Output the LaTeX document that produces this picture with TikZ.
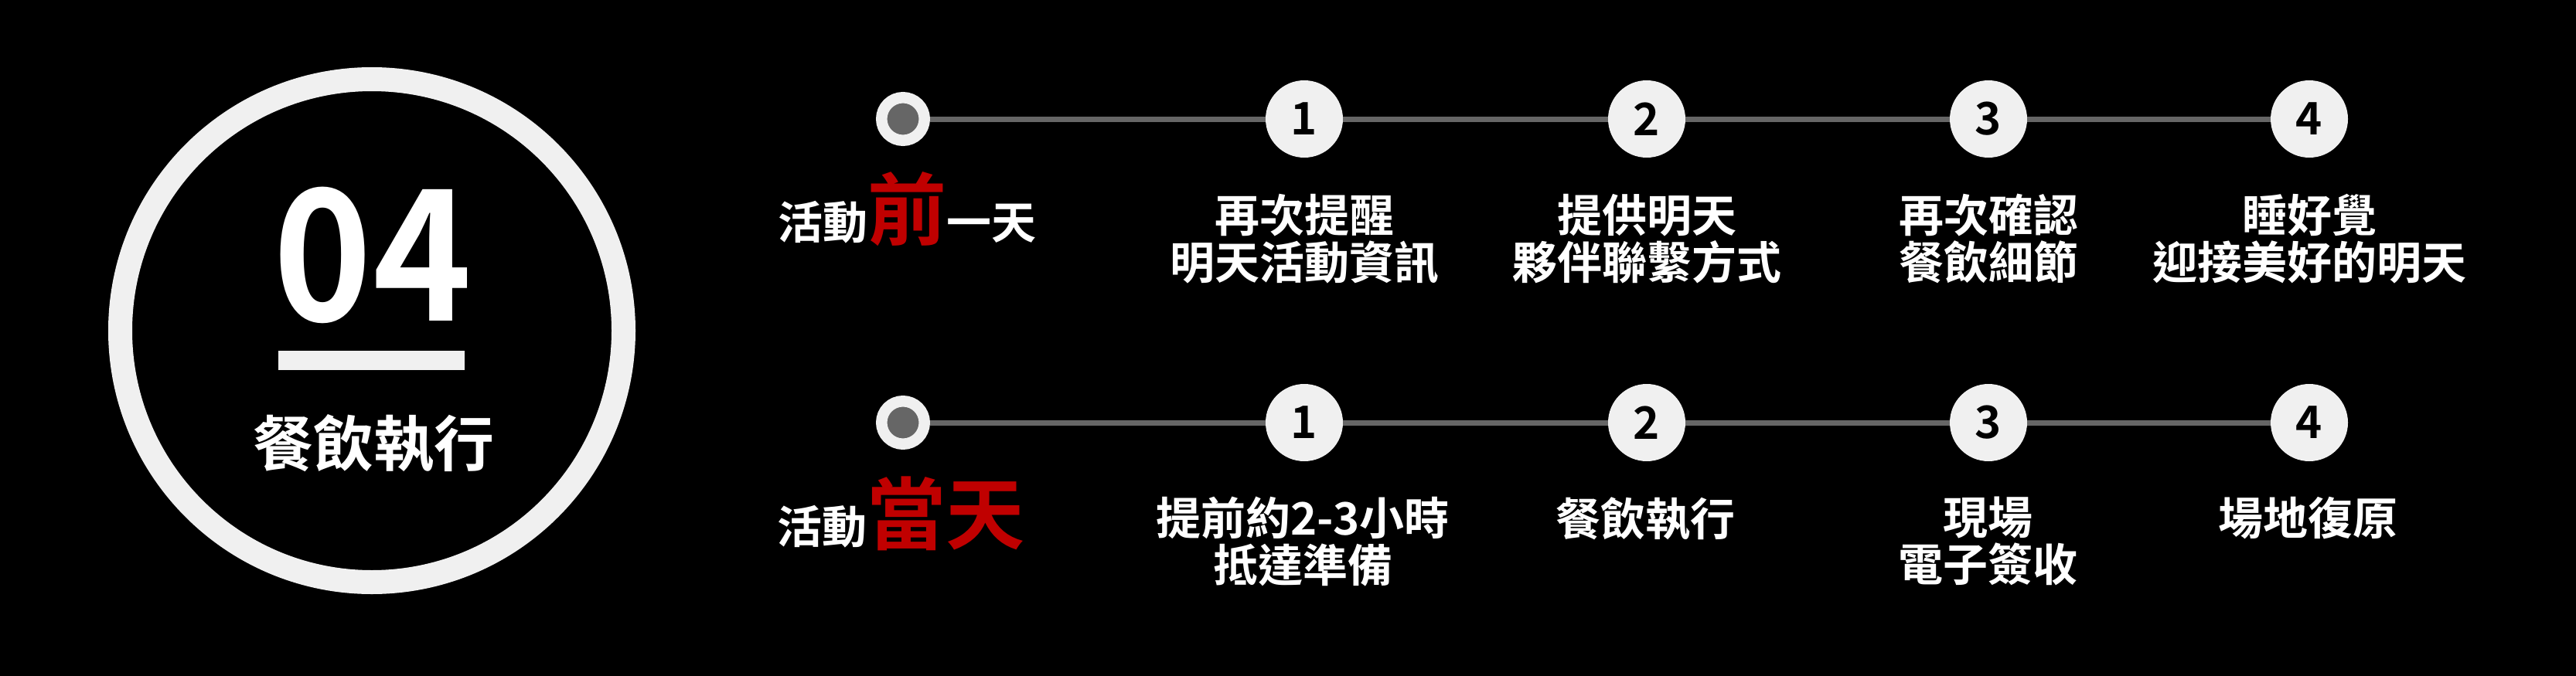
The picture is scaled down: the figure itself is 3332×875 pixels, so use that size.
\documentclass[tikz,border=0pt]{standalone}
\usepackage{fontspec}
\newfontfamily\cjkb{Noto Sans CJK TC Bold}
\definecolor{cwhite}{HTML}{F0F0F0}
\definecolor{cgray}{HTML}{666666}
\definecolor{cred}{HTML}{C00000}
\newcommand\redbig[1]{{\color{cred}\fontsize{102}{102}\selectfont #1}}
\begin{document}
\begin{tikzpicture}[x=1pt,y=-1pt,
  numc/.style={circle, fill=cwhite, minimum size=100pt, inner sep=0pt, text=black,
    font=\cjkb\fontsize{58}{58}\selectfont},
  dotc/.style={circle, fill=cgray, draw=cwhite, line width=14.5pt, minimum size=55.5pt, inner sep=0pt},
  conn/.style={draw=cgray, line width=7pt},
  lbl/.style={anchor=north, inner sep=0pt, align=center, text=white,
    font=\cjkb\fontsize{58}{61}\selectfont},
  daylbl/.style={anchor=base, inner sep=0pt, text=white,
    font=\cjkb\fontsize{58}{61}\selectfont}]
\fill[black] (0,0) rectangle (3332,875);
\useasboundingbox (0,0) rectangle (3332,875);
% big circle
\node[circle, draw=cwhite, line width=31pt, minimum size=651pt, inner sep=0pt] (big) at (481,428) {};
\node[anchor=base, inner sep=0pt, text=white, font=\cjkb\fontsize{236}{236}\selectfont] (num) at (482,415) {\scalebox{0.92}[1]{04}};
\node[fill=cwhite, minimum width=241pt, minimum height=25pt, inner sep=0pt] (bar) at (480.5,466.5) {};
\node[anchor=north, inner sep=0pt, text=white, font=\cjkb\fontsize{78}{78}\selectfont] (title) at (483,536) {餐飲執行};
% top row
\node[dotc] (t0) at (1168,154) {};
\node[numc] (t1) at (1687,154) {1};
\node[numc] (t2) at (2130,154) {2};
\node[numc] (t3) at (2572,154) {3};
\node[numc] (t4) at (2987,154) {4};
\draw[conn] (t0) -- (t1);
\draw[conn] (t1) -- (t2);
\draw[conn] (t2) -- (t3);
\draw[conn] (t3) -- (t4);
\node[daylbl] (tl0) at (1173,309) {活動\redbig{前}一天};
\node[lbl] (tl1) at (1687,251) {再次提醒\\明天活動資訊};
\node[lbl] (tl2) at (2130,251) {提供明天\\夥伴聯繫方式};
\node[lbl] (tl3) at (2572,251) {再次確認\\餐飲細節};
\node[lbl] (tl4) at (2987,251) {睡好覺\\迎接美好的明天};
% bottom row
\node[dotc] (b0) at (1168,547) {};
\node[numc] (b1) at (1687,547) {1};
\node[numc] (b2) at (2130,547) {2};
\node[numc] (b3) at (2572,547) {3};
\node[numc] (b4) at (2987,547) {4};
\draw[conn] (b0) -- (b1);
\draw[conn] (b1) -- (b2);
\draw[conn] (b2) -- (b3);
\draw[conn] (b3) -- (b4);
\node[daylbl] (bl0) at (1165,703) {活動\redbig{當天}};
\node[lbl] (bl1) at (1685,643) {提前約2-3小時\\抵達準備};
\node[lbl] (bl2) at (2128,643) {餐飲執行};
\node[lbl] (bl3) at (2571,643) {現場\\電子簽收};
\node[lbl] (bl4) at (2985,643) {場地復原};
\end{tikzpicture}
\end{document}
